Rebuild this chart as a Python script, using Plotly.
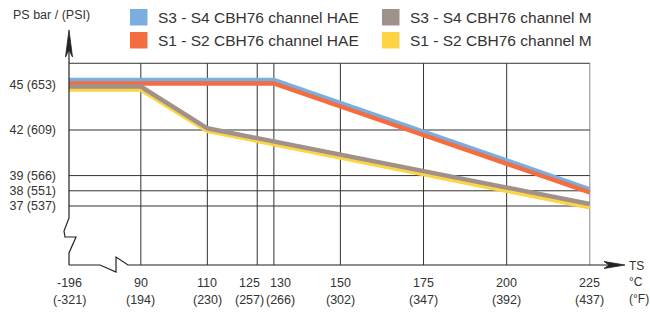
import plotly.graph_objects as go

# ---------------- data ----------------
temps_c = [-196, 90, 110, 125, 130, 150, 175, 200, 225]
temps_f = [-321, 194, 230, 257, 266, 302, 347, 392, 437]

ps_ticks = [45, 42, 39, 38, 37]
psi_ticks = [653, 609, 566, 551, 537]

series_names = [
    "S3 - S4 CBH76 channel HAE",
    "S1 - S2 CBH76 channel HAE",
    "S3 - S4 CBH76 channel M",
    "S1 - S2 CBH76 channel M",
]
hae_34_t = [-196, 130, 225]
hae_34_p = [45.29, 45.29, 38.10]
hae_12_t = [-196, 130, 225]
hae_12_p = [45.06, 45.06, 37.90]
m_34_t = [-196, 90, 110, 225]
m_34_p = [44.86, 44.86, 42.11, 37.13]
m_12_t = [-196, 90, 110, 225]
m_12_p = [44.66, 44.66, 41.95, 36.91]

colors = ["#7aaee0", "#f46d40", "#a0918a", "#fed443"]

# axis break: -196 is drawn just left of 90 (broken axis)
BREAK_POS = 68.4


def pos(t):
    return BREAK_POS if t == -196 else t


# ---------------- layout geometry ----------------
W, H = 650, 312
ML, MR, MT, MB = 69, 0, 22, 37
PW, PH = W - ML - MR, H - MT - MB
X_RANGE = [BREAK_POS, 243.1]
Y_RANGE = [32.46, 49.105]
Y_AXIS_LINE = 33.12
Y_TOP = 46.39


def px(x):
    return (x - ML) / PW


def py(y):
    return (MT + PH - y) / PH


fig = go.Figure()

# draw order: blue, orange, yellow, gray
order = [0, 1, 3, 2]
data = [(hae_34_t, hae_34_p), (hae_12_t, hae_12_p), (m_34_t, m_34_p), (m_12_t, m_12_p)]
for i in order:
    t, p = data[i]
    fig.add_trace(go.Scatter(
        x=[pos(v) for v in t], y=p, mode="lines",
        line=dict(color=colors[i], width=4.5),
        name=series_names[i], showlegend=False, hoverinfo="skip",
    ))

shapes = []
grid_col = "#333333"
# vertical grid lines
for t in temps_c:
    if t == -196:
        continue
    shapes.append(dict(type="line", xref="x", yref="y", x0=t, x1=t,
                       y0=Y_AXIS_LINE, y1=Y_TOP,
                       line=dict(color="#888888" if t == 225 else grid_col, width=1),
                       layer="below"))
# horizontal grid lines
for v in ps_ticks[1:] + [Y_TOP]:
    shapes.append(dict(type="line", xref="x", yref="y", x0=BREAK_POS, x1=225,
                       y0=v, y1=v, line=dict(color=grid_col, width=1), layer="below"))

ax_col = "#222222"
# y axis with break
ypts = [(69, 50), (69, 218), (64, 231), (65, 237), (76, 237), (69, 253), (69, 265)]
path = "M " + " L ".join(f"{px(a):.5f},{py(b):.5f}" for a, b in ypts)
shapes.append(dict(type="path", xref="paper", yref="paper", path=path,
                   line=dict(color=ax_col, width=1.2)))
# y arrow head
ah = [(69, 30), (72.5, 57), (69, 50), (65.5, 57)]
path = "M " + " L ".join(f"{px(a):.5f},{py(b):.5f}" for a, b in ah) + " Z"
shapes.append(dict(type="path", xref="paper", yref="paper", path=path,
                   fillcolor=ax_col, line=dict(color=ax_col, width=0.8)))
# x axis with break
xpts = [(69, 265), (100, 265), (116, 272), (116, 257), (128, 265), (610, 265)]
path = "M " + " L ".join(f"{px(a):.5f},{py(b):.5f}" for a, b in xpts)
shapes.append(dict(type="path", xref="paper", yref="paper", path=path,
                   line=dict(color=ax_col, width=1.2)))
xh = [(625, 265), (604, 268.5), (609, 265), (604, 261.5)]
path = "M " + " L ".join(f"{px(a):.5f},{py(b):.5f}" for a, b in xh) + " Z"
shapes.append(dict(type="path", xref="paper", yref="paper", path=path,
                   fillcolor=ax_col, line=dict(color=ax_col, width=0.8)))

# legend squares
leg_pos = [(130, 9), (130, 32), (382, 9), (382, 32)]
leg_idx = [0, 1, 2, 3]
annotations = []
for (lx, ly), i in zip(leg_pos, leg_idx):
    shapes.append(dict(type="rect", xref="paper", yref="paper",
                       x0=px(lx), x1=px(lx + 17.5), y0=py(ly), y1=py(ly + 16.5),
                       fillcolor=colors[i], line=dict(width=0)))
    annotations.append(dict(xref="paper", yref="paper", x=px(lx + 26), y=py(ly + 8.5),
                            text=series_names[i], showarrow=False, xanchor="left",
                            yanchor="middle", font=dict(size=15.5, color="#333333")))

txt_font = dict(size=12.5, color="#333333")
annotations.append(dict(xref="paper", yref="paper", x=px(51), y=py(15),
                        text="PS bar / (PSI)", showarrow=False, xanchor="center",
                        yanchor="middle", font=txt_font))
for label, yy in [("TS", 266), ("°C", 282), ("(°F)", 299)]:
    annotations.append(dict(xref="paper", yref="paper", x=px(627), y=py(yy),
                            text=label, showarrow=False, xanchor="left",
                            yanchor="middle", font=dict(size=12, color="#333333")))

# x tick labels (two lines), nudged apart where crowded
nudge = {125: -8, 130: 7}
for c, f in zip(temps_c, temps_f):
    for txt, yy in [(str(c), 283), (f"({f})", 300)]:
        annotations.append(dict(xref="x", yref="paper", x=pos(c), y=py(yy),
                                text=txt, showarrow=False, xanchor="center",
                                yanchor="middle", xshift=nudge.get(c, 0),
                                font=txt_font))

fig.update_layout(
    width=W, height=H,
    margin=dict(l=ML, r=MR, t=MT, b=MB, autoexpand=False),
    paper_bgcolor="white", plot_bgcolor="white",
    font=dict(family="Liberation Sans, Arial, sans-serif", size=12.5, color="#333333"),
    xaxis=dict(range=X_RANGE, showgrid=False, zeroline=False, showline=False,
               showticklabels=False, ticks="", automargin=False, fixedrange=True),
    yaxis=dict(range=Y_RANGE, showgrid=False, zeroline=False, showline=False,
               tickvals=ps_ticks,
               ticktext=[f"{a} ({b})" for a, b in zip(ps_ticks, psi_ticks)],
               ticks="", automargin=False,
               ticklabelstandoff=12, tickfont=txt_font, fixedrange=True),
    shapes=shapes,
    annotations=annotations,
    showlegend=False,
)

fig.write_html(
    "out.html",
    config={"displayModeBar": False},
    post_script="document.body.style.margin='0';document.body.style.overflow='hidden';",
)
